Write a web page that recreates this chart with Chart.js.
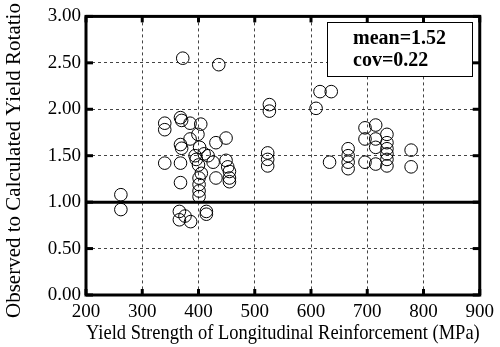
<!DOCTYPE html>
<html>
<head>
<meta charset="utf-8">
<script src="https://cdn.jsdelivr.net/npm/chart.js@4/dist/chart.umd.min.js"></script>
<style>
  html, body { margin: 0; padding: 0; background: #fff; }
  #wrap { width: 500px; height: 347px; position: relative; }
</style>
</head>
<body>
<div id="wrap"><canvas id="c" width="500" height="347"></canvas></div>
<script>
// Data
const yieldStrength = [
  262, 262,
  340, 340, 340,
  368, 370, 368, 370, 368, 368, 366, 366, 376, 386,
  372, 436,
  385, 385,
  404, 399, 402, 394, 396, 400, 405, 401, 401, 401, 401,
  414, 414,
  410, 417, 426, 431, 449, 449, 452, 455, 455, 455, 431,
  526, 526, 523, 523, 523,
  609, 616, 636,
  633,
  666, 666, 666, 666,
  696, 696, 696,
  715, 715, 715, 715,
  735, 735, 735, 735, 735, 735,
  778, 778
];
const rotationRatio = [
  1.08, 0.92,
  1.85, 1.78, 1.42,
  1.91, 1.88, 1.62, 1.58, 1.42, 1.21, 0.90, 0.81, 0.85, 0.79,
  2.55, 2.48,
  1.85, 1.68,
  1.84, 1.73, 1.59, 1.50, 1.46, 1.40, 1.31, 1.26, 1.19, 1.12, 1.06,
  0.90, 0.87,
  1.52, 1.50, 1.43, 1.64, 1.69, 1.45, 1.38, 1.33, 1.26, 1.22, 1.26,
  2.05, 1.98, 1.53, 1.46, 1.39,
  2.01, 2.19, 2.19,
  1.43,
  1.575, 1.50, 1.43, 1.36,
  1.80, 1.68, 1.43,
  1.83, 1.68, 1.59, 1.41,
  1.73, 1.64, 1.575, 1.52, 1.46, 1.39,
  1.56, 1.38
];
const xTicks = [200, 300, 400, 500, 600, 700, 800, 900];
const yTicks = [0.0, 0.5, 1.0, 1.5, 2.0, 2.5, 3.0];
const statLines = ["mean=1.52", "cov=0.22"];
const referenceLevel = 1.0;
const xTitle = "Yield Strength of Longitudinal Reinforcement (MPa)";
const yTitle = "Observed to Calculated Yield Rotatio";

const FONT = "'Liberation Serif', 'Times New Roman', serif";

const points = yieldStrength.map((x, i) => ({ x: x, y: rotationRatio[i] }));

const framePlugin = {
  id: 'framePlugin',
  afterDatasetsDraw(chart) {
    const ctx = chart.ctx;
    const a = chart.chartArea;
    const xs = chart.scales.x, ys = chart.scales.y;
    ctx.save();
    const y1 = ys.getPixelForValue(referenceLevel);
    ctx.strokeStyle = '#000';
    ctx.lineWidth = 3;
    ctx.beginPath();
    ctx.moveTo(a.left, y1);
    ctx.lineTo(a.right, y1);
    ctx.stroke();
    xTicks.forEach(v => {
      const px = xs.getPixelForValue(v);
      ctx.beginPath(); ctx.moveTo(px, a.bottom); ctx.lineTo(px, a.bottom - 6); ctx.stroke();
      ctx.beginPath(); ctx.moveTo(px, a.top); ctx.lineTo(px, a.top + 6); ctx.stroke();
    });
    yTicks.forEach(v => {
      const py = ys.getPixelForValue(v);
      ctx.beginPath(); ctx.moveTo(a.left, py); ctx.lineTo(a.left + 7, py); ctx.stroke();
      ctx.beginPath(); ctx.moveTo(a.right, py); ctx.lineTo(a.right - 7, py); ctx.stroke();
    });
    ctx.strokeRect(a.left, a.top, a.right - a.left, a.bottom - a.top);
    ctx.restore();
  },
  afterDraw(chart) {
    const ctx = chart.ctx;
    ctx.save();
    ctx.fillStyle = '#fff';
    ctx.fillRect(327.5, 22.5, 145, 54);
    ctx.strokeStyle = '#000';
    ctx.lineWidth = 1;
    ctx.strokeRect(327.5, 22.5, 145, 54);
    ctx.fillStyle = '#000';
    ctx.font = "bold 20px " + FONT;
    ctx.textBaseline = 'middle';
    ctx.textAlign = 'left';
    ctx.fillText(statLines[0], 353, 39);
    ctx.fillText(statLines[1], 353, 61);
    ctx.translate(14, 318);
    ctx.rotate(-Math.PI / 2);
    ctx.font = "21px " + FONT;
    ctx.textAlign = 'left';
    ctx.textBaseline = 'middle';
    ctx.fillText(yTitle, 0, 0);
    ctx.restore();
  }
};

new Chart(document.getElementById('c'), {
  type: 'scatter',
  data: {
    datasets: [{
      data: points,
      pointRadius: 6.3,
      pointHoverRadius: 6.3,
      borderWidth: 1,
      borderColor: '#000',
      backgroundColor: 'rgba(0,0,0,0)'
    }]
  },
  options: {
    responsive: false,
    animation: false,
    events: [],
    layout: { padding: { top: 12, right: 14, left: 0, bottom: 0 } },
    plugins: { legend: { display: false }, tooltip: { enabled: false } },
    scales: {
      x: {
        type: 'linear',
        min: 200, max: 900,
        afterBuildTicks(s) { s.ticks = xTicks.map(v => ({ value: v })); },
        afterFit(s) { s.height = 52; },
        grid: { color: '#444', lineWidth: 1, drawTicks: false },
        border: { display: false, dash: [3, 3] },
        ticks: { color: '#000', font: { family: FONT, size: 19 }, padding: 6, maxRotation: 0 },
        title: { display: true, text: xTitle, color: '#000', font: { family: FONT, size: 21 }, padding: { top: 0, bottom: 1 } }
      },
      y: {
        type: 'linear',
        min: 0, max: 3,
        afterBuildTicks(s) { s.ticks = yTicks.map(v => ({ value: v })); },
        afterFit(s) { s.width = 86; },
        grid: { color: '#444', lineWidth: 1, drawTicks: false },
        border: { display: false, dash: [3, 3] },
        ticks: { color: '#000', font: { family: FONT, size: 19 }, padding: 5, callback: v => Number(v).toFixed(2) }
      }
    }
  },
  plugins: [framePlugin]
});
</script>
</body>
</html>
